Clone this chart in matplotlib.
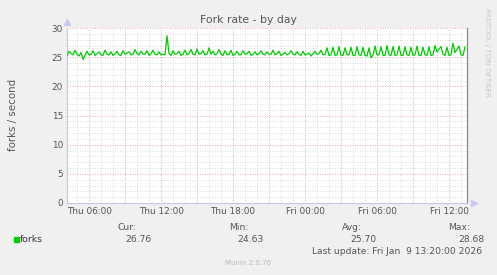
import matplotlib
matplotlib.use("Agg")
import matplotlib.pyplot as plt
import numpy as np

# forks per second, 10 minute samples starting Thu 04:10
forks = [
    25.3, 26.0, 25.6, 25.4, 26.2, 25.5, 25.2, 25.8, 24.63, 25.3, 26.0, 25.4,
    25.5, 26.1, 25.3, 25.6, 25.9, 25.4, 25.3, 26.2, 25.5, 25.4, 25.9, 25.3,
    25.6, 26.0, 25.4, 25.3, 26.1, 25.5, 25.7, 25.9, 25.4, 25.5, 26.3, 25.6,
    25.4, 26.0, 25.5, 25.5, 26.1, 25.3, 25.6, 26.2, 25.5, 25.4, 25.9, 25.4,
    25.5, 25.4, 28.68, 25.6, 25.3, 26.1, 25.5, 25.6, 26.0, 25.3, 25.5, 26.2,
    25.4, 25.6, 26.3, 25.5, 25.4, 26.4, 25.5, 25.6, 26.1, 25.4, 25.5, 26.6,
    25.5, 26.0, 25.4, 25.6, 26.3, 25.5, 25.3, 26.1, 25.4, 25.5, 26.2, 25.3,
    25.5, 26.0, 25.4, 25.4, 26.1, 25.5, 25.6, 26.0, 25.3, 25.5, 25.9, 25.4,
    25.6, 26.1, 25.5, 25.4, 25.9, 25.5, 25.5, 26.2, 25.4, 25.6, 26.0, 25.3,
    25.5, 25.8, 25.4, 25.6, 26.1, 25.5, 25.4, 25.9, 25.5, 25.3, 26.0, 25.4,
    25.5, 25.7, 25.2, 25.6, 26.0, 25.5, 25.6, 26.2, 25.4, 25.5, 26.6, 25.3,
    25.4, 26.7, 25.3, 25.4, 26.8, 25.3, 25.3, 26.6, 25.4, 25.4, 26.7, 25.3,
    25.3, 26.8, 25.4, 25.3, 26.7, 25.3, 25.2, 26.6, 24.9, 25.3, 26.9, 25.4,
    25.4, 26.8, 25.3, 25.3, 27.0, 25.4, 25.3, 26.8, 25.3, 25.4, 26.9, 25.3,
    25.3, 26.8, 25.4, 25.3, 26.7, 25.3, 25.4, 26.9, 25.3, 25.3, 26.7, 25.4,
    25.3, 26.8, 25.3, 25.4, 27.0, 25.9, 26.4, 26.8, 25.5, 25.3, 26.7, 25.3,
    25.4, 27.4, 25.8, 26.3, 26.9, 25.4, 25.3, 26.76,
]
start_hour = 4 + 10 / 60      # Thu 04:10, hours since Thu 00:00
end_hour = 37.5               # Fri 13:30
tick_hours = [6, 12, 18, 24, 30, 36]
tick_labels = ["Thu 06:00", "Thu 12:00", "Thu 18:00", "Fri 00:00", "Fri 06:00", "Fri 12:00"]
y_ticks = [0, 5, 10, 15, 20, 25, 30]

stats_names = ["Cur:", "Min:", "Avg:", "Max:"]
stats_values = ["26.76", "24.63", "25.70", "28.68"]

W, H = 497, 275
fig = plt.figure(figsize=(W / 100, H / 100), dpi=100, facecolor="#F0F0F0")
ax = fig.add_axes([67 / W, (H - 203) / H, 400 / W, 175 / H], facecolor="white")

hours = start_hour + np.arange(len(forks)) / 6
ax.plot(hours, forks, color="#00CC00", lw=0.9, zorder=3)

ax.set_xlim(start_hour, end_hour)
ax.set_ylim(0, 30)
ax.set_xticks(tick_hours)
ax.set_xticklabels(tick_labels)
ax.set_yticks(y_ticks)
ax.set_xticks(np.arange(5, 38, 1), minor=True)
ax.set_yticks(np.arange(0, 31, 1), minor=True)

ax.grid(which="minor", color="#CFCFCF", ls=(0, (1, 2)), lw=0.6, zorder=0)
ax.grid(which="major", axis="y", color="#E09090", ls=(0, (1, 2)), lw=0.6, zorder=1)
for h in np.arange(6, 38, 3):
    ax.axvline(h, color="#E09090", ls=(0, (1, 2)), lw=0.6, zorder=1)

ax.tick_params(which="both", length=0, colors="#555555", labelsize=6.4, pad=3)
for lab in ax.get_xticklabels() + ax.get_yticklabels():
    lab.set_color("#555555")

ax.spines["top"].set_visible(False)
ax.spines["left"].set_color("#C8C8F0")
ax.spines["bottom"].set_color("#C8C8F0")
ax.spines["right"].set_color("#888888")
for s in ["left", "bottom", "right"]:
    ax.spines[s].set_linewidth(0.9)

# axis arrows
ax.plot([start_hour], [31.0], marker="^", color="#C8C8F0", ms=4, clip_on=False)
ax.plot([end_hour + 0.55], [0], marker=">", color="#C8C8F0", ms=4, clip_on=False)

fig.text(248 / W, 1 - 20 / H, "Fork rate - by day", ha="center", va="center",
         fontsize=7.8, color="#555555")
fig.text(13 / W, 1 - 115 / H, "forks / second", ha="center", va="center",
         rotation=90, fontsize=7.4, color="#555555")
fig.text(487 / W, 1 - 52 / H, "RRDTOOL / TOBI OETIKER", ha="center", va="center",
         rotation=270, fontsize=5.0, color="#C8C8C8")

# legend
fig.patches.append(plt.Rectangle((14 / W, 1 - 242 / H), 5 / W, 5 / H,
                                 transform=fig.transFigure, color="#00CC00"))
fig.text(20 / W, 1 - 239 / H, "forks", ha="left", va="center", fontsize=6.6, color="#333333")
for xc, name, val in zip([133, 245, 358, 466], stats_names, stats_values):
    fig.text((xc + 4) / W, 1 - 227 / H, name, ha="right", va="center",
             fontsize=6.6, color="#555555")
    fig.text((xc + 5) / W, 1 - 239 / H, val, ha="center", va="center",
             fontsize=6.6, color="#555555")
fig.text(482 / W, 1 - 251 / H, "Last update: Fri Jan  9 13:20:00 2026", ha="right",
         va="center", fontsize=6.6, color="#555555")
fig.text(248 / W, 1 - 263 / H, "Munin 2.0.76", ha="center", va="center",
         fontsize=5.0, color="#BBBBBB")

fig.savefig("out.png", dpi=100, facecolor=fig.get_facecolor())
